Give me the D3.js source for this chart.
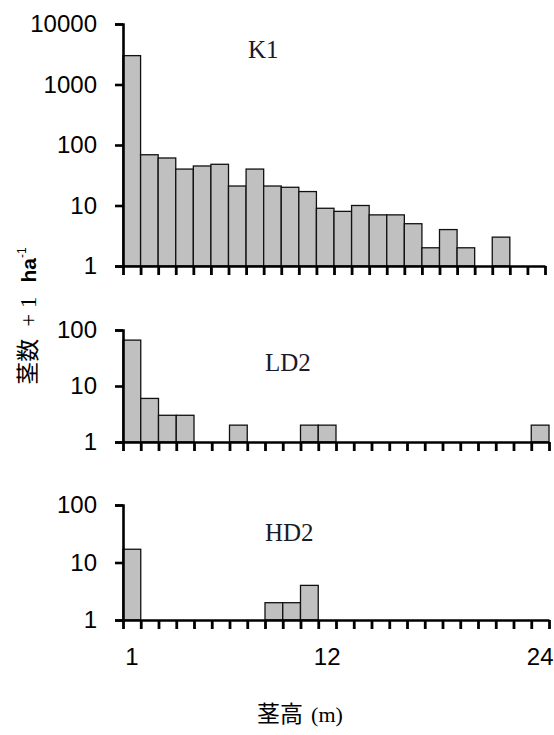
<!DOCTYPE html>
<html>
<head>
<meta charset="utf-8">
<script src="https://cdn.jsdelivr.net/npm/d3@7"></script>
<style>
  html, body { margin: 0; padding: 0; background: #fff; }
  svg { display: block; }
  .tick text { font-family: "Liberation Sans", Arial, sans-serif; }
</style>
</head>
<body>
<svg id="chart" width="554" height="735"></svg>
<script>
// Stem-height classes (m)
const heightClasses = d3.range(1, 25);

// Stem count + 1 per ha, per height class
const k1Values  = [3000, 69, 61, 40, 45, 48, 21, 40, 21, 20, 17, 9, 8, 10, 7, 7, 5, 2, 4, 2, 1, 3, 1, 1];
const ld2Values = [66, 6, 3, 3, 1, 1, 2, 1, 1, 1, 2, 2, 1, 1, 1, 1, 1, 1, 1, 1, 1, 1, 1, 2];
const hd2Values = [17, 1, 1, 1, 1, 1, 1, 1, 2, 2, 4, 1, 1, 1, 1, 1, 1, 1, 1, 1, 1, 1, 1, 1];

const plotNames = ["K1", "LD2", "HD2"];
const yTicksTall  = [1, 10, 100, 1000, 10000];
const yTicksShort = [1, 10, 100];
const xTickLabels = [1, 12, 24];

const svg = d3.select("#chart");

const panels = [
  { name: plotNames[0], values: k1Values,  ticks: yTicksTall,  top: 24,  bottom: 266, x0: 123, x1: 545, labelX: 248, labelY: 58 },
  { name: plotNames[1], values: ld2Values, ticks: yTicksShort, top: 330, bottom: 442, x0: 123, x1: 549, labelX: 265, labelY: 371 },
  { name: plotNames[2], values: hd2Values, ticks: yTicksShort, top: 505, bottom: 620, x0: 123, x1: 549, labelX: 265, labelY: 541 }
];

panels.forEach((p, i) => {
  const g = svg.append("g");

  const x = d3.scaleBand().domain(heightClasses).range([p.x0, p.x1]).padding(0);
  const edges = d3.scaleLinear().domain([0, heightClasses.length]).range([p.x0, p.x1]);
  const y = d3.scaleLog().domain([1, d3.max(p.ticks)]).range([p.bottom, p.top]);

  // bars
  g.append("g").selectAll("rect")
    .data(heightClasses.map((h, j) => ({ h, v: p.values[j] })).filter(d => d.v > 1))
    .join("rect")
    .attr("x", d => x(d.h))
    .attr("width", x.bandwidth())
    .attr("y", d => y(d.v))
    .attr("height", d => y(1) - y(d.v))
    .attr("fill", "#c0c0c0")
    .attr("stroke", "#111")
    .attr("stroke-width", 1.3);

  // y axis
  const ya = g.append("g")
    .attr("transform", `translate(${p.x0},0)`)
    .call(d3.axisLeft(y).tickValues(p.ticks).tickFormat(d3.format("d")).tickSize(8).tickPadding(18));
  ya.select(".domain").attr("stroke", "#000").attr("stroke-width", 2.6);
  ya.selectAll(".tick line").attr("stroke", "#000").attr("stroke-width", 2.6);
  ya.selectAll(".tick text").attr("font-size", 24).attr("fill", "#000");

  // x axis: ticks at class boundaries
  const xa = g.append("g")
    .attr("transform", `translate(0,${p.bottom})`)
    .call(d3.axisBottom(edges).tickValues(d3.range(0, heightClasses.length + 1)).tickFormat("").tickSize(9).tickSizeOuter(0));
  xa.select(".domain").attr("stroke", "#000").attr("stroke-width", 2.6);
  xa.selectAll(".tick line").attr("stroke", "#000").attr("stroke-width", 2.8);

  // class labels under the last panel
  if (i === panels.length - 1) {
    const xl = g.append("g")
      .attr("transform", `translate(0,${p.bottom})`)
      .call(d3.axisBottom(x).tickValues(xTickLabels).tickSize(0).tickPadding(28));
    xl.select(".domain").remove();
    xl.selectAll(".tick text").attr("font-size", 24).attr("fill", "#000");
  }

  // plot name
  g.append("text")
    .attr("x", p.labelX)
    .attr("y", p.labelY)
    .attr("font-family", "'Liberation Serif', 'Times New Roman', serif")
    .attr("font-size", 25)
    .attr("fill", "#1a1a2a")
    .text(p.name);
});

// x axis title
const xt = svg.append("text")
  .attr("x", 300)
  .attr("y", 722)
  .attr("text-anchor", "middle")
  .attr("fill", "#000");
xt.append("tspan").attr("font-family", "'Noto Sans CJK JP', sans-serif").attr("font-size", 23).text("茎高");
xt.append("tspan").attr("font-family", "'Liberation Serif', serif").attr("font-size", 22).attr("dx", 8).text("(m)");

// y axis title
const yt = svg.append("text")
  .attr("transform", "translate(36,316) rotate(-90)")
  .attr("text-anchor", "middle")
  .attr("fill", "#000");
yt.append("tspan").attr("font-family", "'Noto Sans CJK JP', sans-serif").attr("font-size", 23).text("茎数");
yt.append("tspan").attr("font-family", "'Liberation Serif', serif").attr("font-size", 23).attr("dx", 12).text("+ 1");
yt.append("tspan").attr("font-family", "'Liberation Sans', Arial, sans-serif").attr("font-weight", "bold").attr("font-size", 21).attr("dx", 14).text("ha");
yt.append("tspan").attr("font-family", "'Liberation Sans', Arial, sans-serif").attr("font-size", 12).attr("dy", -10).text("-1");
</script>
</body>
</html>
